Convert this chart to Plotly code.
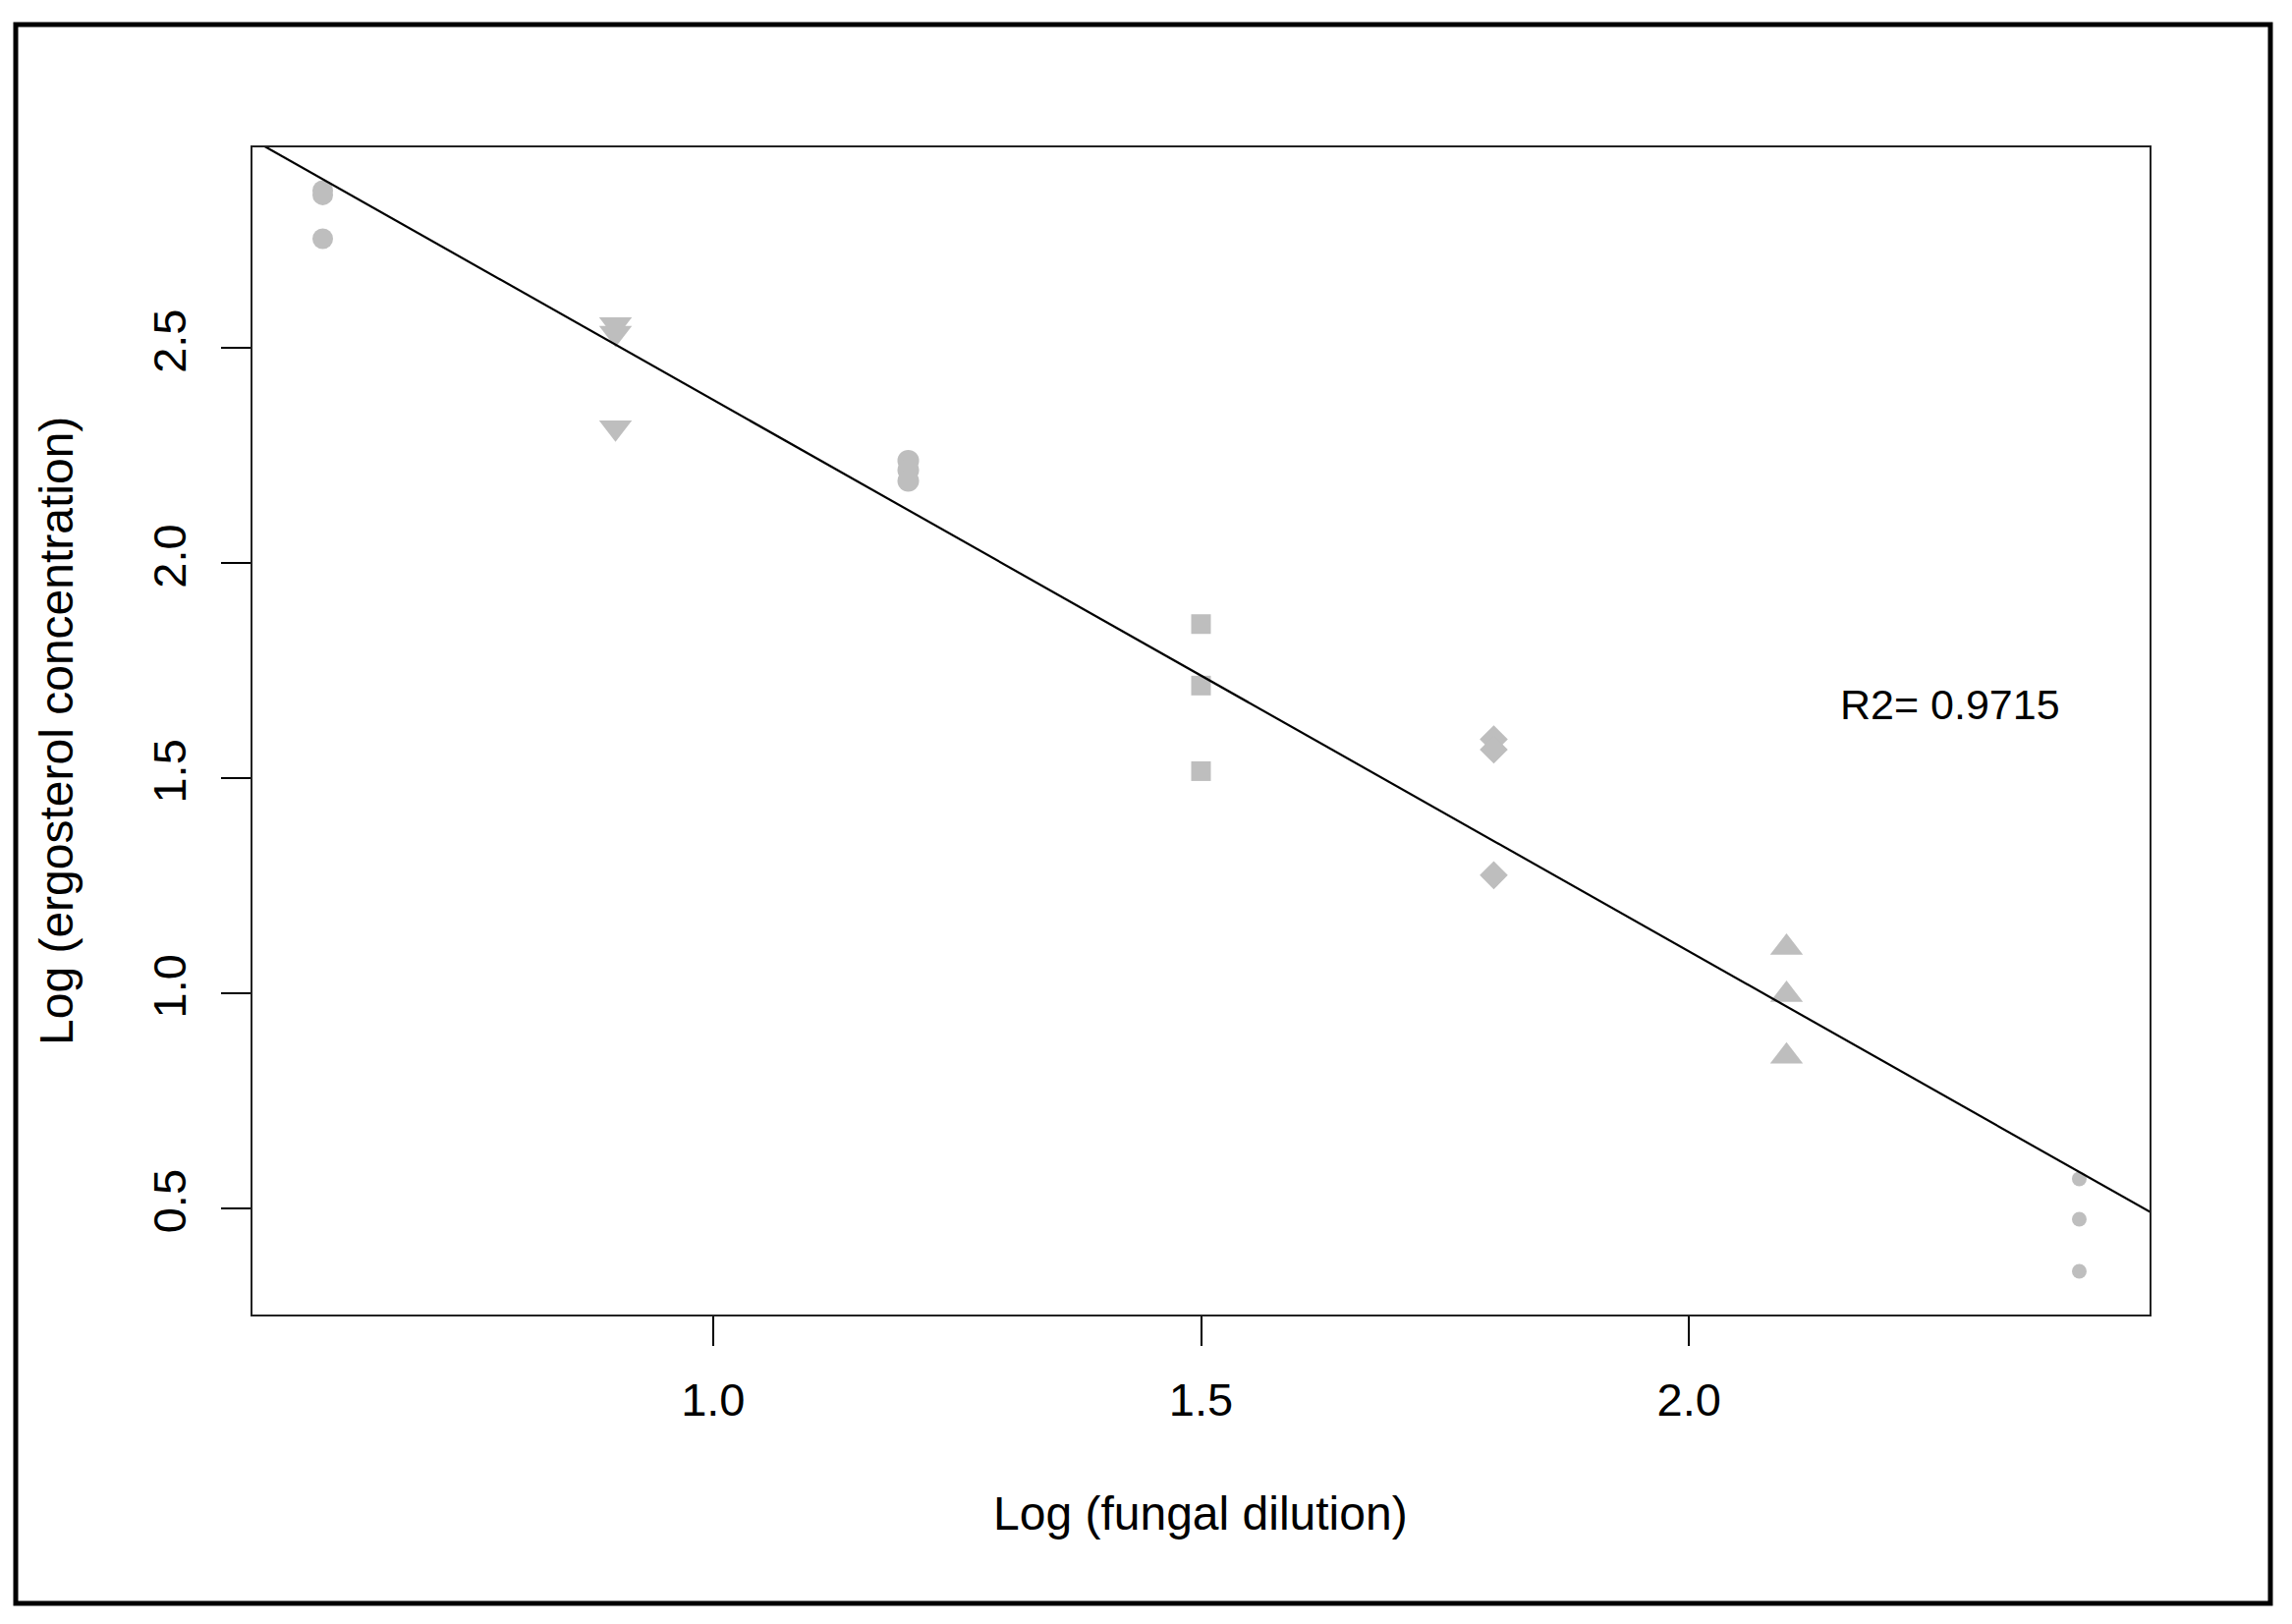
import plotly.graph_objects as go

# ---- data ----
x_levels = [0.6, 0.9, 1.2, 1.5, 1.8, 2.1, 2.4]
y_g1 = [2.866, 2.856, 2.754]
y_g2 = [2.555, 2.535, 2.315]
y_g3 = [2.238, 2.216, 2.191]
y_g4 = [1.858, 1.715, 1.516]
y_g5 = [1.590, 1.566, 1.274]
y_g6 = [1.106, 0.996, 0.853]
y_g7 = [0.568, 0.474, 0.353]
groups_y = [y_g1, y_g2, y_g3, y_g4, y_g5, y_g6, y_g7]

symbols = ["circle", "triangle-down", "circle", "square", "diamond", "triangle-up", "circle"]
sizes = [21, 29, 22, 20, 22, 29, 15]

fit_intercept = 3.662
fit_slope = -1.2825
r2_text = "R2= 0.9715"
r2_pos = (2.268, 1.672)

x_ticks = [1.0, 1.5, 2.0]
x_ticklabels = ["1.0", "1.5", "2.0"]
y_ticks = [0.5, 1.0, 1.5, 2.0, 2.5]
y_ticklabels = ["0.5", "1.0", "1.5", "2.0", "2.5"]

x_title = "Log (fungal dilution)"
y_title = "Log (ergosterol concentration)"

# R-style 4% axis extension
all_y = [v for g in groups_y for v in g]
xmin, xmax = min(x_levels), max(x_levels)
ymin, ymax = min(all_y), max(all_y)
xr = [xmin - 0.04 * (xmax - xmin), xmax + 0.04 * (xmax - xmin)]
yr = [ymin - 0.04 * (ymax - ymin), ymax + 0.04 * (ymax - ymin)]

FONT = "Liberation Sans, Arial, sans-serif"
GREY = "#BEBEBE"

fig = go.Figure()
for xv, ys, sym, sz in zip(x_levels, groups_y, symbols, sizes):
    fig.add_trace(go.Scatter(
        x=[xv] * len(ys), y=ys, mode="markers",
        marker=dict(symbol=sym, size=sz, color=GREY, line=dict(width=0)),
        showlegend=False, hoverinfo="x+y"))

line_x = [xr[0] - 1, xr[1] + 1]
line_y = [fit_intercept + fit_slope * v for v in line_x]
fig.add_trace(go.Scatter(x=line_x, y=line_y, mode="lines",
                         line=dict(color="black", width=2.2), showlegend=False,
                         hoverinfo="skip"))

fig.add_annotation(x=r2_pos[0], y=r2_pos[1], xref="x", yref="y", text=r2_text,
                   showarrow=False, font=dict(family=FONT, size=43, color="black"),
                   xanchor="center", yanchor="middle")

L, T, R, B = 257, 150, 2333 - 2188, 1653 - 1338
W, H = 2333, 1653
pw, ph = W - L - R, H - T - B

def px2paper_x(px):
    return (px - L) / pw

def px2paper_y(py):
    return (H - B - py) / ph

fig.add_annotation(x=px2paper_x(1222), y=px2paper_y(1540), xref="paper", yref="paper",
                   text=x_title, showarrow=False,
                   font=dict(family=FONT, size=48, color="black"),
                   xanchor="center", yanchor="middle")
fig.add_annotation(x=px2paper_x(57), y=px2paper_y(744), xref="paper", yref="paper",
                   text=y_title, showarrow=False, textangle=-90,
                   font=dict(family=FONT, size=48, color="black"),
                   xanchor="center", yanchor="middle")

# outer frame
fig.add_shape(type="rect", xref="paper", yref="paper",
              x0=px2paper_x(16), x1=px2paper_x(2311),
              y0=px2paper_y(1632), y1=px2paper_y(25),
              line=dict(color="black", width=5), fillcolor="rgba(0,0,0,0)", layer="above")

axis_common = dict(showgrid=False, zeroline=False, showline=True, mirror=True,
                   linecolor="#222", linewidth=2, ticks="outside", ticklen=30,
                   tickwidth=2, tickcolor="black",
                   tickfont=dict(family=FONT, size=47, color="black"))

fig.update_xaxes(range=xr, tickvals=x_ticks, ticktext=x_ticklabels,
                 ticklabelstandoff=15, **axis_common)
fig.update_yaxes(range=yr, tickvals=y_ticks, ticktext=y_ticklabels, tickangle=-90,
                 ticklabelstandoff=17, **axis_common)

fig.update_layout(width=W, height=H, margin=dict(l=L, r=R, t=T, b=B, pad=0),
                  paper_bgcolor="white", plot_bgcolor="white",
                  font=dict(family=FONT, color="black"))

fig.write_html("out.html", config={"displayModeBar": False},
               post_script="document.body.style.margin='0';")
